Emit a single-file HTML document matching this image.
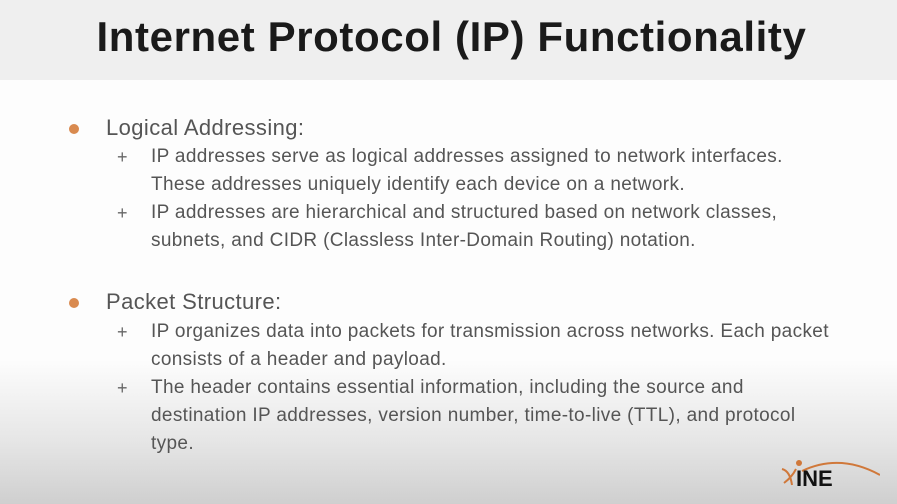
<!DOCTYPE html>
<html><head><style>
body{margin:0;width:897px;height:504px;overflow:hidden;font-family:"Liberation Sans",sans-serif;}
.bg{position:absolute;left:0;top:0;width:897px;height:504px;background:linear-gradient(#fdfdfd 0,#fdfdfd 360px,#e6e6e6 440px,#cfcfcf 504px);}
.hdr{position:absolute;left:0;top:0;width:897px;height:80px;background:#efefef;}
.t{position:absolute;left:3px;width:897px;top:13px;text-align:center;font-size:42px;font-weight:bold;color:#1a1a1a;letter-spacing:0.6px}
.l{position:absolute;white-space:nowrap;color:#555;}
.a{font-size:22px;left:106px;letter-spacing:0.4px}
.b{font-size:19px;left:151px;letter-spacing:0.35px}
.p{font-size:18px;left:117px;color:#666}
.dot{position:absolute;left:69px;width:10px;height:10px;border-radius:50%;background:#d98a4f}
</style></head><body>
<div class="bg"></div><div class="hdr"></div>
<div class="t">Internet Protocol (IP) Functionality</div>
<div class="dot" style="top:124px"></div>
<div class="l a" style="top:115px">Logical Addressing:</div>
<div class="l p" style="top:147px">+</div>
<div class="l b" style="top:146px">IP addresses serve as logical addresses assigned to network interfaces.</div>
<div class="l b" style="top:174px">These addresses uniquely identify each device on a network.</div>
<div class="l p" style="top:203px">+</div>
<div class="l b" style="top:202px">IP addresses are hierarchical and structured based on network classes,</div>
<div class="l b" style="top:230px">subnets, and CIDR (Classless Inter-Domain Routing) notation.</div>
<div class="dot" style="top:298px"></div>
<div class="l a" style="top:289px">Packet Structure:</div>
<div class="l p" style="top:322px">+</div>
<div class="l b" style="top:321px">IP organizes data into packets for transmission across networks. Each packet</div>
<div class="l b" style="top:349px">consists of a header and payload.</div>
<div class="l p" style="top:378px">+</div>
<div class="l b" style="top:377px">The header contains essential information, including the source and</div>
<div class="l b" style="top:405px">destination IP addresses, version number, time-to-live (TTL), and protocol</div>
<div class="l b" style="top:433px">type.</div>
<svg style="position:absolute;left:780px;top:455px" width="100" height="35">
<path d="M22 16 Q60 -2 100 20" stroke="#d0783a" stroke-width="2" fill="none"/>
<circle cx="19" cy="8" r="3" fill="#d0783a"/>
<path d="M2 14 Q10 16 12 30 M4 28 Q12 22 16 14" stroke="#d0783a" stroke-width="2" fill="none"/>
<text x="16" y="31" font-family="Liberation Sans" font-weight="bold" font-size="22" fill="#111">INE</text>
</svg>
</body></html>
